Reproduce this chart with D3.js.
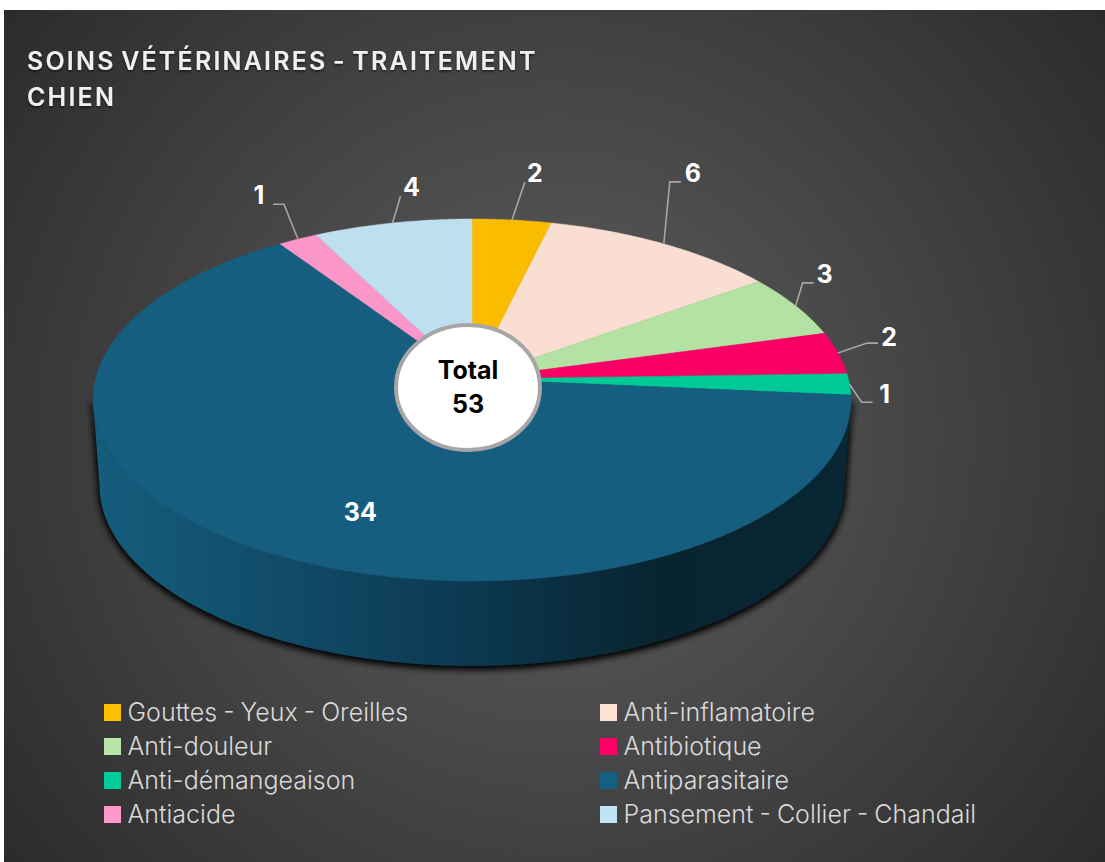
<!DOCTYPE html>
<html>
<head>
<meta charset="utf-8">
<script src="https://cdnjs.cloudflare.com/ajax/libs/d3/7.8.5/d3.min.js"></script>
<style>
  html, body { margin: 0; padding: 0; background: #fff; overflow: hidden; }
  text { font-family: Inter, Roboto, sans-serif; }
</style>
</head>
<body>
<script>
const categories = ['Gouttes - Yeux - Oreilles', 'Anti-inflamatoire', 'Anti-douleur', 'Antibiotique',
  'Anti-démangeaison', 'Antiparasitaire', 'Antiacide', 'Pansement - Collier - Chandail']
const values = [2, 6, 3, 2, 1, 34, 1, 4]
const colors = ['#ffc000', '#ffe3d6', '#b8e6a8', '#ff0066', '#00cc99', '#156082', '#ff99cc', '#c1e4f5']
const titleLines = ['SOINS VÉTÉRINAIRES - TRAITEMENT', 'CHIEN']
const centerLines = ['Total', '53']

// leader elbow and label position, relative to the rim point of each slice
const elbowOffsets = [[13, -38], [6, -62], [7, -23], [29, -10], [12, 18], null, [-14, -35], [8, -27]]
const labelOffsets = [[23, -47], [29, -71], [29, -32], [51, -16], [35, 10], [101, -38], [-39, -44], [19, -36]]

const WIDTH = 1105
const HEIGHT = 862

// the tilted pie is a circle seen in perspective, so the apex sits above the ellipse centre
const CX = 472
const APEX_Y = 379
const RADIUS = 376.4
const PERSP = 0.116
const TILT = -134.6
const DEPTH = 85

function project (angle, r = 1, z = 0) {
  const u = Math.sin(angle) * r
  const v = Math.cos(angle) * r
  const w = 1 + PERSP * v
  const shrink = 1 - z * 0.0002
  return [CX + RADIUS * shrink * u / w, (TILT * v + APEX_Y) / w + z]
}

const pie = d3.pie().sort(null).value(d => d)
const arcs = pie(values)
const line = d3.line()

function sliceArc (a0, a1, z = 0) {
  const n = Math.max(2, Math.ceil((a1 - a0) * 80))
  return d3.range(n + 1).map(i => project(a0 + (a1 - a0) * i / n, 1, z))
}

const svg = d3.select('body').append('svg')
  .attr('width', WIDTH)
  .attr('height', HEIGHT)
  .style('display', 'block')

const defs = svg.append('defs')

const bg = defs.append('radialGradient')
  .attr('id', 'bg')
  .attr('gradientUnits', 'userSpaceOnUse')
  .attr('cx', 555).attr('cy', 436).attr('r', 700)
bg.append('stop').attr('offset', '0%').attr('stop-color', '#606060')
bg.append('stop').attr('offset', '100%').attr('stop-color', '#2b2b2b')

const wallFill = defs.append('linearGradient')
  .attr('id', 'wall')
  .attr('gradientUnits', 'userSpaceOnUse')
  .attr('x1', CX - RADIUS).attr('x2', CX + RADIUS).attr('y1', 0).attr('y2', 0)
wallFill.append('stop').attr('offset', '0%').attr('stop-color', '#155d7d')
wallFill.append('stop').attr('offset', '27%').attr('stop-color', '#104a66')
wallFill.append('stop').attr('offset', '50%').attr('stop-color', '#0c3850')
wallFill.append('stop').attr('offset', '75%').attr('stop-color', '#08242f')
wallFill.append('stop').attr('offset', '100%').attr('stop-color', '#082633')

const blur = defs.append('filter').attr('id', 'shadow')
  .attr('x', '-10%').attr('y', '-10%').attr('width', '120%').attr('height', '125%')
blur.append('feGaussianBlur').attr('stdDeviation', 3.2)

const titleShadow = defs.append('filter').attr('id', 'titleShadow')
titleShadow.append('feDropShadow')
  .attr('dx', 0).attr('dy', 1.5).attr('stdDeviation', 1.2)
  .attr('flood-color', '#000').attr('flood-opacity', 0.6)

svg.append('rect')
  .attr('x', 4).attr('y', 10)
  .attr('width', WIDTH - 4).attr('height', HEIGHT - 10)
  .attr('fill', 'url(#bg)')

svg.append('g')
  .attr('filter', 'url(#titleShadow)')
  .selectAll('text')
  .data(titleLines)
  .enter().append('text')
  .attr('x', 27)
  .attr('y', (d, i) => 70 + i * 36)
  .attr('fill', '#f0f0f0')
  .attr('font-size', 25)
  .attr('font-weight', 600)
  .attr('letter-spacing', 2.2)
  .attr('word-spacing', -3)
  .text(d => d)

// wall runs between the two widest points of the rim
const wallStart = Math.PI / 2 + Math.asin(PERSP)
const wallEnd = 3 * Math.PI / 2 - Math.asin(PERSP)
const wallPath = sliceArc(wallStart, wallEnd, 0)
  .concat(sliceArc(wallStart, wallEnd, DEPTH).reverse())

svg.append('path')
  .attr('d', line(wallPath) + 'Z')
  .attr('fill', '#000')
  .attr('stroke', '#000')
  .attr('stroke-width', 4)
  .attr('filter', 'url(#shadow)')
  .attr('transform', 'translate(0,2)')

svg.append('path')
  .attr('d', line(wallPath) + 'Z')
  .attr('fill', 'url(#wall)')

svg.append('g')
  .selectAll('path')
  .data(arcs)
  .enter().append('path')
  .attr('d', d => line([project(0, 0)].concat(sliceArc(d.startAngle, d.endAngle))) + 'Z')
  .attr('fill', (d, i) => d3.color(colors[i]).darker(0.06))
  .attr('stroke', (d, i) => d3.color(colors[i]).darker(0.06))
  .attr('stroke-width', 0.5)

const rim = arcs.map(d => project((d.startAngle + d.endAngle) / 2))

svg.append('g')
  .selectAll('path')
  .data(arcs.map((d, i) => i).filter(i => elbowOffsets[i]))
  .enter().append('path')
  .attr('d', i => {
    const [x, y] = rim[i]
    const [ex, ey] = elbowOffsets[i]
    const tail = labelOffsets[i][0] > ex ? 11 : -11
    return line(i === 0 || i === 7
      ? [[x, y], [x + ex, y + ey]]
      : [[x, y], [x + ex, y + ey], [x + ex + tail, y + ey]])
  })
  .attr('fill', 'none')
  .attr('stroke', '#a6a6a6')
  .attr('stroke-width', 1.6)

svg.append('g')
  .selectAll('text')
  .data(values)
  .enter().append('text')
  .attr('x', (d, i) => rim[i][0] + labelOffsets[i][0])
  .attr('y', (d, i) => rim[i][1] + labelOffsets[i][1])
  .attr('dy', '.36em')
  .attr('text-anchor', 'middle')
  .attr('fill', '#fff')
  .attr('font-size', 25)
  .attr('font-weight', 700)
  .text(d => d)

svg.append('ellipse')
  .attr('cx', 468).attr('cy', 387.5)
  .attr('rx', 72).attr('ry', 62.5)
  .attr('fill', '#fff')
  .attr('stroke', '#a6a6a6')
  .attr('stroke-width', 4)

svg.append('g')
  .selectAll('text')
  .data(centerLines)
  .enter().append('text')
  .attr('x', 468)
  .attr('y', (d, i) => 379 + i * 34)
  .attr('text-anchor', 'middle')
  .attr('fill', '#000')
  .attr('font-size', 25)
  .attr('font-weight', 700)
  .text(d => d)

const legend = svg.append('g')
  .selectAll('g')
  .data(categories)
  .enter().append('g')
  .attr('transform', (d, i) => `translate(${i % 2 ? 600 : 104},${704 + Math.floor(i / 2) * 34})`)

legend.append('rect')
  .attr('width', 17)
  .attr('height', 17)
  .attr('fill', (d, i) => colors[i])

legend.append('text')
  .attr('x', 23.5)
  .attr('y', 17)
  .attr('fill', '#d9d9d9')
  .attr('font-size', 25)
  .attr('font-weight', 300)
  .attr('word-spacing', -1)
  .text(d => d)
</script>
</body>
</html>
